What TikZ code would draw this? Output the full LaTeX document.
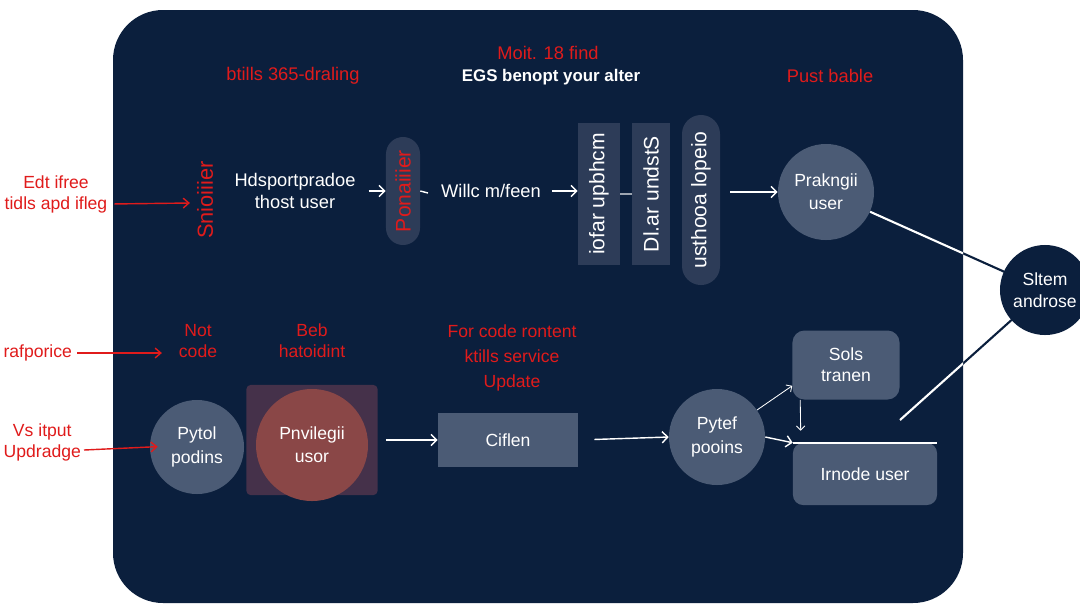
\documentclass[tikz,border=0pt]{standalone}
\usepackage{fontspec}
\setmainfont{Liberation Sans}
\usetikzlibrary{arrows.meta}
\definecolor{navy}{HTML}{0B1F3D}
\definecolor{slate}{HTML}{4B5B75}
\definecolor{deepslate}{HTML}{2D3C58}
\definecolor{alert}{HTML}{E01B1B}
\definecolor{wine}{HTML}{8A4747}
\definecolor{plum}{HTML}{45314A}
\begin{document}
\begin{tikzpicture}
  [x=0.025cm,y=-0.025cm,
   every node/.style={font=\fontsize{12.5}{15}\selectfont,align=center,inner sep=2pt},
   redtxt/.style={text=alert},
   disc/.style={circle,fill=slate,text=white,inner sep=0pt,font=\fontsize{12.5}{16.5}\selectfont},
   tile/.style={rectangle,fill=slate,text=white,rounded corners=0.3cm,font=\fontsize{12.5}{15}\selectfont},
   vtile/.style={rectangle,fill=deepslate,text=white,rotate=90,inner sep=0pt,font=\fontsize{15}{17}\selectfont},
   flow/.style={draw=white,line width=1pt,-{Straight Barb[length=4pt,width=8pt]}},
   thinflow/.style={draw=white,line width=0.6pt,-{Straight Barb[length=3pt,width=6pt]}},
   redflow/.style={draw=alert,line width=1pt,-{Straight Barb[length=4pt,width=7pt]}}]
  \useasboundingbox (0,0) rectangle (1080,608);
  \fill[white] (0,0) rectangle (1080,608);
  \fill[navy,rounded corners=1.25cm] (113,10) rectangle (963,603);

  % headers
  \node[redtxt,font=\fontsize{13}{15}\selectfont] (hdrleft) at (293,76) {btills 365-draling};
  \node[redtxt,font=\fontsize{13}{15}\selectfont] (hdrmid) at (548,53) {Moit. 18 find};
  \node[text=white,font=\fontsize{12}{14}\selectfont\bfseries] (hdrsub) at (551,77) {EGS benopt your alter};
  \node[redtxt,font=\fontsize{13}{15}\selectfont] (hdrright) at (830,76) {Pust bable};

  % top row
  \node[redtxt] (edt) at (56,194) {Edt ifree\\tidls apd ifleg};
  \node[redtxt,rotate=90,font=\fontsize{15.5}{17}\selectfont] (snio) at (205,200) {Snioiiier};
  \node[text=white,font=\fontsize{13}{15}\selectfont] (hds) at (295,191) {Hdsportpradoe\\thost user};
  \node[vtile,text=alert,minimum width=2.7cm,minimum height=0.85cm,rounded corners=0.425cm] (pill) at (403,191) {Ponaiiier};
  \coordinate (dashend) at (428,193);
  \node[text=white,font=\fontsize{13}{15}\selectfont] (willc) at (491,191) {Willc m/feen};
  \node[vtile,minimum width=3.55cm,minimum height=1.05cm] (box1) at (599,194) {iofar upbhcm};
  \node[vtile,minimum width=3.55cm,minimum height=0.95cm] (box2) at (651,194) {Dl.ar undstS};
  \node[vtile,minimum width=4.25cm,minimum height=0.95cm,rounded corners=0.475cm] (box3) at (701,200) {usthooa lopeio};
  \node[disc,minimum size=2.4cm] (prak) at (826,192) {Prakngii\\user};

  % bottom row
  \node[redtxt,anchor=east] (raf) at (75,353) {rafporice};
  \node[redtxt] (notcode) at (198,341) {Not\\code};
  \node[redtxt,anchor=east] (vs) at (84,442) {Vs itput\\Updradge};
  \node[disc,minimum size=2.35cm] (pytol) at (197,447) {Pytol\\podins};
  \node[redtxt] (beb) at (312,341) {Beb\\hatoidint};
  \node[rectangle,fill=plum,minimum width=3.275cm,minimum height=2.75cm,rounded corners=0.1cm] (redbox) at (312,440) {};
  \node[disc,fill=wine,minimum size=2.8cm] (privuser) at (312,445) {Pnvilegii\\usor};
  \node[redtxt,font=\fontsize{12.5}{17.5}\selectfont] (forcode) at (512,358) {For code rontent\\ktills service\\Update};
  \node[tile,rounded corners=0pt,minimum width=3.5cm,minimum height=1.35cm] (ciflen) at (508,440) {Ciflen};
  \node[disc,minimum size=2.4cm] (pytef) at (717,437) {Pytef\\pooins};
  \node[tile,minimum width=2.675cm,minimum height=1.725cm] (sols) at (846,365) {Sols\\tranen};
  \node[tile,rounded corners=0.25cm,minimum width=3.6cm,minimum height=1.55cm] (irnode) at (865,474) {Irnode user};
  \coordinate (tailend) at (900,420);

  % system node outside the panel
  \draw[navy,line width=1.5pt] (prak) -- (1045,290) -- (tailend);
  \begin{scope}
    \clip[rounded corners=1.25cm] (113,10) rectangle (963,603);
    \draw[white,line width=1.5pt] (prak) -- (1045,290) -- (tailend);
  \end{scope}
  \node[circle,fill=navy,text=white,minimum size=2.25cm,inner sep=0pt,font=\fontsize{12.5}{15.5}\selectfont] (sltem) at (1045,290) {Sltem\\androse};

  % connectors
  \draw[redflow,shorten <=0.1cm] ([yshift=-0.25cm]edt.east) -- ([yshift=-0.075cm,xshift=-0.1cm]snio.north);
  \draw[flow,shorten <=0.25cm] (hds.east |- pill.north) -- (pill.north);
  \draw[white,line width=1pt] (pill.south) -- (dashend);
  \draw[flow,shorten <=0.2cm] (willc.east) -- (willc.east -| box1.north);
  \draw[white!60!navy,line width=0.8pt] (box1.south) -- (box2.north);
  \draw[flow,shorten <=0.25cm] (box3.south |- prak.west) -- (prak.west);

  \draw[redflow,shorten <=0.05cm,shorten >=0.35cm] (raf.east) -- (raf.east -| notcode.west);
  \draw[redflow,shorten >=-0.2cm] ([yshift=-0.2cm]vs.east) -- (pytol.west);
  \draw[flow,shorten <=0.2cm] (redbox.east) -- (ciflen.west);
  \draw[flow,shorten <=0.4cm] (ciflen.east) -- (pytef.west);
  \draw[thinflow] (pytef.34) -- ([yshift=0.35cm]sols.south west);
  \draw[thinflow] ([xshift=0.2cm]sols.south west) -- ([xshift=0.2cm,yshift=0.3cm]irnode.north west);
  \draw[flow] (pytef.east) -- (irnode.north west);
  \draw[white,line width=1.5pt] (irnode.north west) -- (irnode.north east);
\end{tikzpicture}
\end{document}
